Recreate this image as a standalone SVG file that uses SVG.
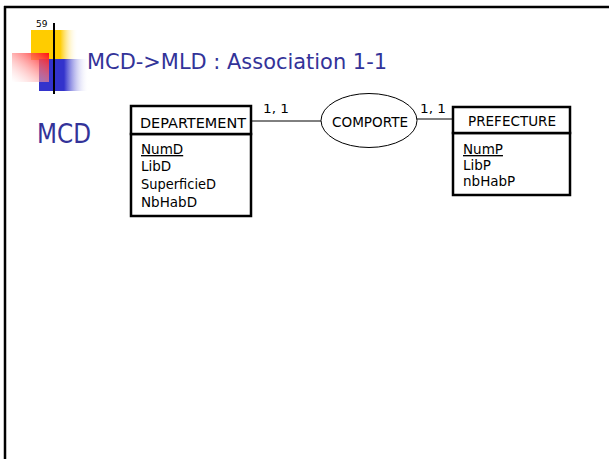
<svg xmlns="http://www.w3.org/2000/svg" width="609" height="459" viewBox="0 0 609 459">
<defs>
<linearGradient id="gy" x1="0" y1="0" x2="1" y2="0"><stop offset="0" stop-color="#FFCC00"/><stop offset="0.62" stop-color="#FFCC00"/><stop offset="1" stop-color="#FFFFFF" stop-opacity="0"/></linearGradient>
<linearGradient id="gb" x1="0" y1="0" x2="1" y2="0"><stop offset="0" stop-color="#3333CC"/><stop offset="0.5" stop-color="#3333CC"/><stop offset="1" stop-color="#FFFFFF" stop-opacity="0"/></linearGradient>
<linearGradient id="gr" x1="1" y1="0" x2="0" y2="1"><stop offset="0" stop-color="#FF1010"/><stop offset="1" stop-color="#FFFFFF" stop-opacity="0.3"/></linearGradient>
<linearGradient id="gl" x1="0" y1="0" x2="1" y2="0"><stop offset="0" stop-color="#222222"/><stop offset="0.12" stop-color="#555555"/><stop offset="0.6" stop-color="#B0B0B0"/><stop offset="1" stop-color="#FFFFFF"/></linearGradient>
<style>
.t{font-family:"DejaVu Sans","Liberation Sans",sans-serif;fill:#000}
.box{fill:#fff;stroke:#000;stroke-width:2.5}
.con{stroke:#000;stroke-width:1;fill:none}
.ttl{font-family:"DejaVu Sans","Liberation Sans",sans-serif;fill:#333399}
</style>
</defs>
<rect width="609" height="459" fill="#fff"/>
<g id="frame">
<line x1="4" y1="7" x2="609" y2="7" stroke="#000" stroke-width="2.5"/>
<line x1="5" y1="6" x2="5" y2="459" stroke="#000" stroke-width="2.5"/>
</g>
<g id="logo">
<rect x="31" y="30" width="47" height="30" fill="url(#gy)"/>
<rect x="39" y="59" width="50" height="32" fill="url(#gb)"/>
<rect x="12" y="53" width="37" height="29" fill="url(#gr)"/>
<line x1="54" y1="23" x2="54" y2="94" stroke="#000" stroke-width="2"/>
<line x1="33" y1="77" x2="600" y2="77" stroke="url(#gl)" stroke-width="2"/>
<text class="t" x="36" y="27" font-size="9" fill="#000">59</text>
</g>
<g id="title">
<text class="ttl" x="87" y="69" font-size="21" textLength="300" lengthAdjust="spacingAndGlyphs">MCD-&gt;MLD : Association 1-1</text>
<text class="ttl" x="37" y="143" font-size="26" textLength="54" lengthAdjust="spacingAndGlyphs">MCD</text>
</g>
<g id="connectors">
<line class="con" x1="251" y1="121" x2="321" y2="121"/>
<line class="con" x1="416" y1="119" x2="453" y2="119"/>
<text class="t" x="263" y="113" font-size="13" textLength="26" lengthAdjust="spacingAndGlyphs">1, 1</text>
<text class="t" x="420" y="113" font-size="13" textLength="26" lengthAdjust="spacingAndGlyphs">1, 1</text>
</g>
<g id="departement">
<rect class="box" x="131" y="134" width="120" height="82"/>
<rect class="box" x="131" y="106" width="120" height="28"/>
<text class="t" x="140" y="128" font-size="14" textLength="106" lengthAdjust="spacingAndGlyphs">DEPARTEMENT</text>
<text class="t" x="141" y="154" font-size="13.5" text-decoration="underline">NumD</text>
<text class="t" x="141" y="171" font-size="13.5">LibD</text>
<text class="t" x="141" y="189" font-size="13.5" textLength="75" lengthAdjust="spacingAndGlyphs">SuperficieD</text>
<text class="t" x="141" y="207" font-size="13.5">NbHabD</text>
</g>
<g id="comporte">
<ellipse cx="369" cy="120.5" rx="48" ry="27" fill="#fff" stroke="#000" stroke-width="1"/>
<text class="t" x="332" y="127" font-size="14" textLength="76" lengthAdjust="spacingAndGlyphs">COMPORTE</text>
</g>
<g id="prefecture">
<rect class="box" x="453" y="133" width="117" height="62"/>
<rect class="box" x="453" y="107" width="117" height="26"/>
<text class="t" x="468" y="126" font-size="14" textLength="88" lengthAdjust="spacingAndGlyphs">PREFECTURE</text>
<text class="t" x="463" y="154" font-size="13.5" text-decoration="underline">NumP</text>
<text class="t" x="463" y="170" font-size="13.5">LibP</text>
<text class="t" x="463" y="186" font-size="13.5">nbHabP</text>
</g>
</svg>
